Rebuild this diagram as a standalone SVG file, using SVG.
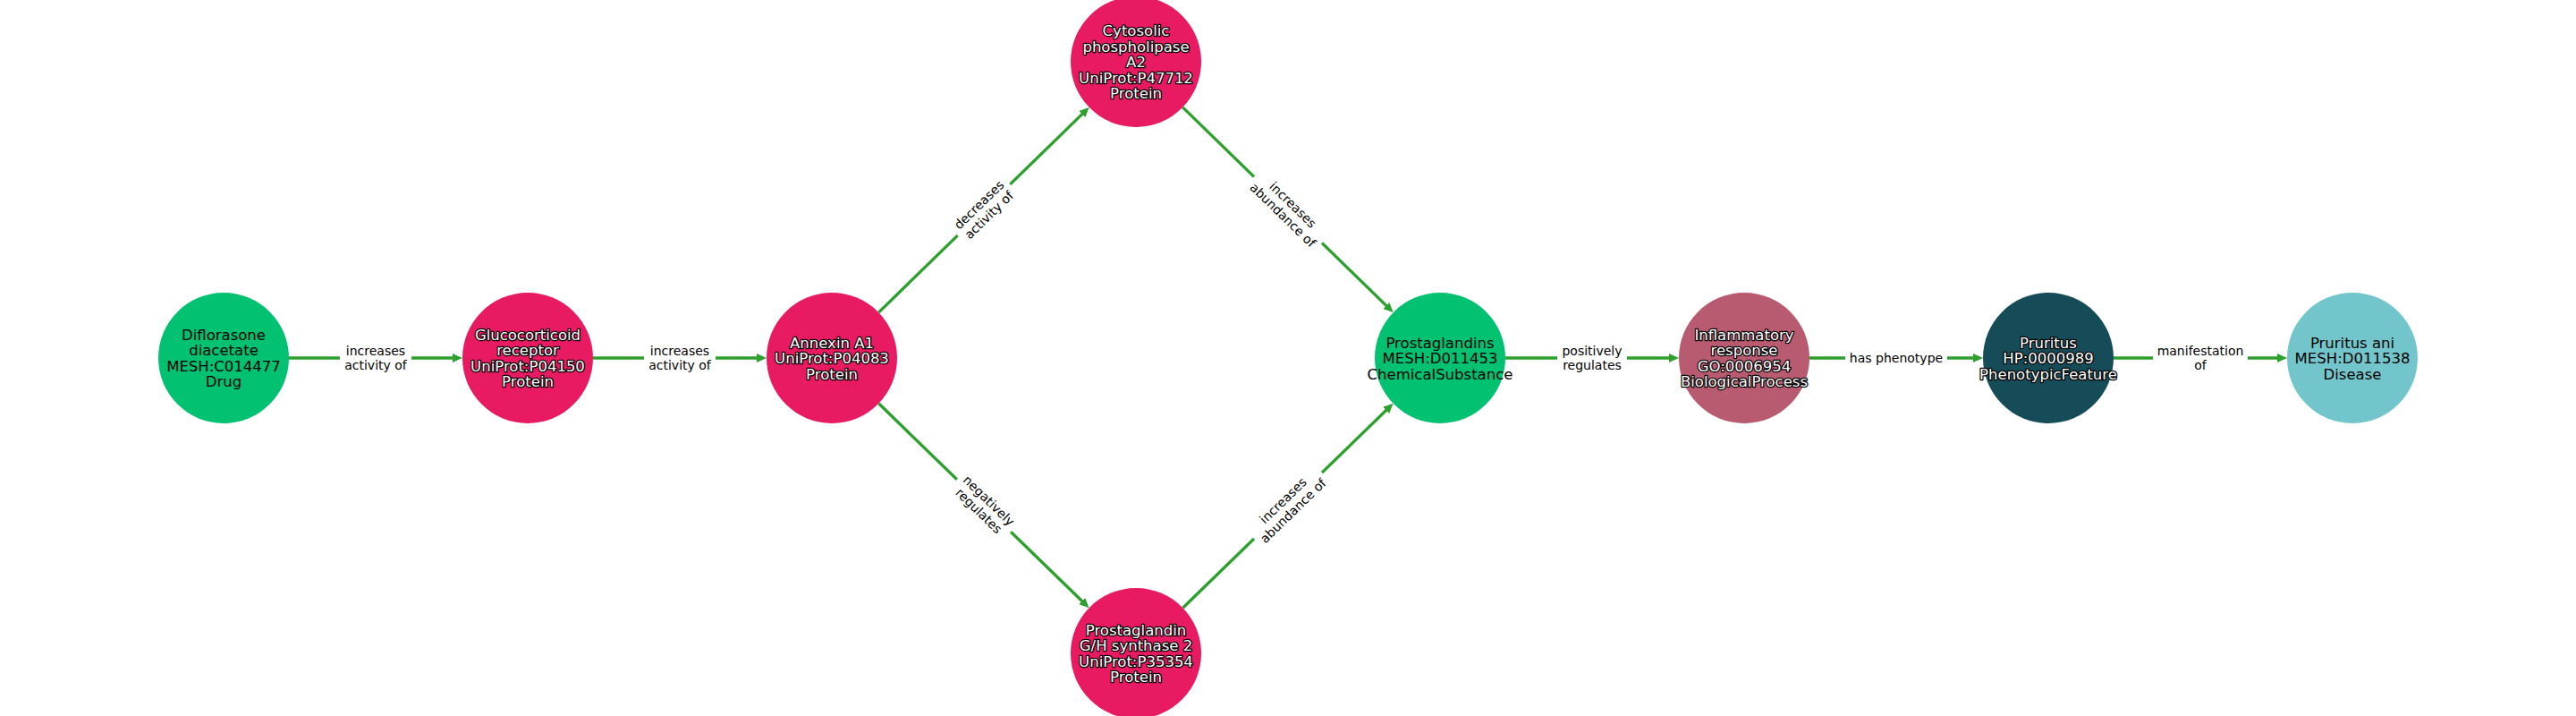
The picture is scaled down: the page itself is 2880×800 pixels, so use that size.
<svg xmlns="http://www.w3.org/2000/svg" width="2880" height="800" viewBox="0 0 2880 800">
<defs>
<marker id="arr" markerUnits="userSpaceOnUse" viewBox="0 0 11 10" markerWidth="11" markerHeight="10" refX="6" refY="5" orient="auto">
<path d="M0,0 L11,5 L0,10 z" fill="#2ca02c"/>
</marker>
</defs>
<style>
.edge{stroke:#2ca02c;stroke-width:3.3;fill:none;marker-end:url(#arr)}
.lb{fill:#ffffff}
.et{font-family:"DejaVu Sans",sans-serif;font-size:14px;fill:#000;text-anchor:middle}
.nt{font-family:"DejaVu Sans",sans-serif;font-size:16.5px;text-anchor:middle}
.dk{fill:#000}
.ol{fill:#fff;stroke:#000;stroke-width:2.5;paint-order:stroke;stroke-linejoin:round}
</style>
<rect width="2880" height="800" fill="#ffffff"/>
<g id="connectors">
<line class="edge" x1="323" y1="400" x2="512" y2="400"/>
<line class="edge" x1="663" y1="400" x2="852" y2="400"/>
<line class="edge" x1="982.3" y1="349.1" x2="1214.1" y2="123.4"/>
<line class="edge" x1="1322.3" y1="119.9" x2="1554.1" y2="345.6"/>
<line class="edge" x1="982.4" y1="450.8" x2="1214.0" y2="675.7"/>
<line class="edge" x1="1322.4" y1="679.2" x2="1554.0" y2="454.3"/>
<line class="edge" x1="1683" y1="400" x2="1872" y2="400"/>
<line class="edge" x1="2023" y1="400" x2="2212" y2="400"/>
<line class="edge" x1="2363" y1="400" x2="2552" y2="400"/>
<g transform="translate(420,400)"><rect class="lb" x="-40" y="-20" width="80" height="40"/><text class="et"><tspan x="0" y="-3">increases</tspan><tspan x="0" y="13">activity of</tspan></text></g>
<g transform="translate(760,400)"><rect class="lb" x="-40" y="-20" width="80" height="40"/><text class="et"><tspan x="0" y="-3">increases</tspan><tspan x="0" y="13">activity of</tspan></text></g>
<g transform="translate(1100,234.5) rotate(-44.23)"><rect class="lb" x="-41" y="-20" width="82" height="40"/><text class="et"><tspan x="0" y="-3">decreases</tspan><tspan x="0" y="13">activity of</tspan></text></g>
<g transform="translate(1440,234.5) rotate(44.23)"><rect class="lb" x="-53" y="-20" width="106" height="40"/><text class="et"><tspan x="0" y="-3">increases</tspan><tspan x="0" y="13">abundance of</tspan></text></g>
<g transform="translate(1100,565) rotate(44.14)"><rect class="lb" x="-42" y="-20" width="84" height="40"/><text class="et"><tspan x="0" y="-3">negatively</tspan><tspan x="0" y="13">regulates</tspan></text></g>
<g transform="translate(1440,565) rotate(-44.14)"><rect class="lb" x="-53" y="-20" width="106" height="40"/><text class="et"><tspan x="0" y="-3">increases</tspan><tspan x="0" y="13">abundance of</tspan></text></g>
<g transform="translate(1780,400)"><rect class="lb" x="-39" y="-20" width="78" height="40"/><text class="et"><tspan x="0" y="-3">positively</tspan><tspan x="0" y="13">regulates</tspan></text></g>
<g transform="translate(2120,400)"><rect class="lb" x="-57" y="-11" width="114" height="22"/><text class="et" x="0" y="5">has phenotype</text></g>
<g transform="translate(2460,400)"><rect class="lb" x="-53" y="-20" width="106" height="40"/><text class="et"><tspan x="0" y="-3">manifestation</tspan><tspan x="0" y="13">of</tspan></text></g>
</g>
<g id="n1"><circle cx="250" cy="400" r="73" fill="#02c170"/><text class="nt dk"><tspan x="250" y="379.75">Diflorasone</tspan><tspan x="250" y="397.25">diacetate</tspan><tspan x="250" y="414.75">MESH:C014477</tspan><tspan x="250" y="432.25">Drug</tspan></text></g>
<g id="n2"><circle cx="590" cy="400" r="73" fill="#e81a62"/><text class="nt ol"><tspan x="590" y="379.75">Glucocorticoid</tspan><tspan x="590" y="397.25">receptor</tspan><tspan x="590" y="414.75">UniProt:P04150</tspan><tspan x="590" y="432.25">Protein</tspan></text></g>
<g id="n3"><circle cx="930" cy="400" r="73" fill="#e81a62"/><text class="nt ol"><tspan x="930" y="388.5">Annexin A1</tspan><tspan x="930" y="406">UniProt:P04083</tspan><tspan x="930" y="423.5">Protein</tspan></text></g>
<g id="n4"><circle cx="1270" cy="69" r="73" fill="#e81a62"/><text class="nt ol"><tspan x="1270" y="40">Cytosolic</tspan><tspan x="1270" y="57.5">phospholipase</tspan><tspan x="1270" y="75">A2</tspan><tspan x="1270" y="92.5">UniProt:P47712</tspan><tspan x="1270" y="110">Protein</tspan></text></g>
<g id="n5"><circle cx="1270" cy="730" r="73" fill="#e81a62"/><text class="nt ol"><tspan x="1270" y="709.75">Prostaglandin</tspan><tspan x="1270" y="727.25">G/H synthase 2</tspan><tspan x="1270" y="744.75">UniProt:P35354</tspan><tspan x="1270" y="762.25">Protein</tspan></text></g>
<g id="n6"><circle cx="1610" cy="400" r="73" fill="#02c170"/><text class="nt dk"><tspan x="1610" y="388.5">Prostaglandins</tspan><tspan x="1610" y="406">MESH:D011453</tspan><tspan x="1610" y="423.5">ChemicalSubstance</tspan></text></g>
<g id="n7"><circle cx="1950" cy="400" r="73" fill="#b85a70"/><text class="nt ol"><tspan x="1950" y="379.75">Inflammatory</tspan><tspan x="1950" y="397.25">response</tspan><tspan x="1950" y="414.75">GO:0006954</tspan><tspan x="1950" y="432.25">BiologicalProcess</tspan></text></g>
<g id="n8"><circle cx="2290" cy="400" r="73" fill="#164c57"/><text class="nt ol"><tspan x="2290" y="388.5">Pruritus</tspan><tspan x="2290" y="406">HP:0000989</tspan><tspan x="2290" y="423.5">PhenotypicFeature</tspan></text></g>
<g id="n9"><circle cx="2630" cy="400" r="73" fill="#72c6cb"/><text class="nt dk"><tspan x="2630" y="388.5">Pruritus ani</tspan><tspan x="2630" y="406">MESH:D011538</tspan><tspan x="2630" y="423.5">Disease</tspan></text></g>
</svg>
